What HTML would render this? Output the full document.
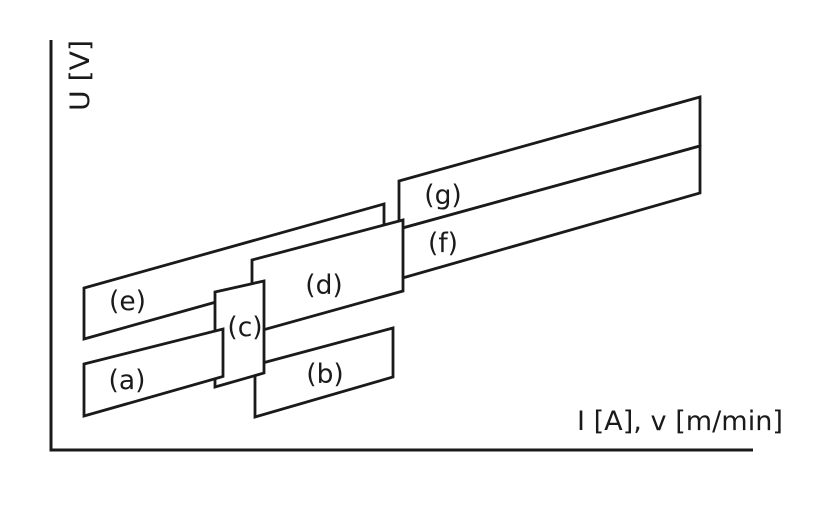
<!DOCTYPE html>
<html>
<head>
<meta charset="utf-8">
<style>
  html,body{margin:0;padding:0;background:#fff;}
  svg{display:block;}
  text{font-family:"DejaVu Sans","Liberation Sans",sans-serif;font-size:26.5px;fill:#1a1a1a;}
</style>
</head>
<body>
<svg width="819" height="512" viewBox="0 0 819 512" xmlns="http://www.w3.org/2000/svg">
  <rect width="819" height="512" fill="#fff"/>
  <g fill="#fff" stroke="#1a1a1a" stroke-width="2.8" stroke-linejoin="miter">
    <!-- e -->
    <polygon points="84,288 384,204 384,255 84,339"/>
    <!-- g -->
    <polygon points="399,181 700,97 700,146 399,229"/>
    <!-- f -->
    <polygon points="399,229 700,146 700,193 399,279"/>
    <!-- b -->
    <polygon points="255,365 393,328 393,377 255,417"/>
    <!-- d -->
    <polygon points="252,260 403,220 403,291 252,333"/>
    <!-- c -->
    <polygon points="215,292 264,281 264,373 215,387"/>
    <!-- a -->
    <polygon points="84,364 223,329 223,376.5 84,416"/>
  </g>
  <!-- axes -->
  <g stroke="#1a1a1a" stroke-width="3" fill="none">
    <line x1="51" y1="40" x2="51" y2="451.5"/>
    <line x1="49.5" y1="450" x2="753" y2="450"/>
  </g>
  <!-- axis labels -->
  <text x="577" y="430" textLength="206" lengthAdjust="spacingAndGlyphs">I [A], v [m/min]</text>
  <text transform="translate(89,111) rotate(-90)" x="0" y="0" textLength="71" lengthAdjust="spacingAndGlyphs">U [V]</text>
  <!-- region labels -->
  <g text-anchor="middle">
    <text x="127.5" y="310">(e)</text>
    <text x="127" y="389">(a)</text>
    <text x="245" y="336">(c)</text>
    <text x="325" y="383">(b)</text>
    <text x="324" y="294">(d)</text>
    <text x="443" y="204">(g)</text>
    <text x="443" y="252">(f)</text>
  </g>
</svg>
</body>
</html>
